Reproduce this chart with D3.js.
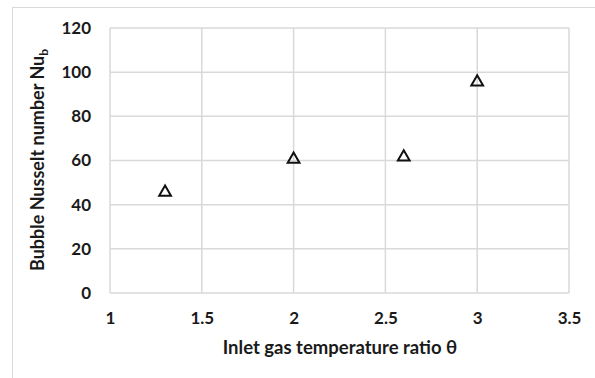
<!DOCTYPE html>
<html><head><meta charset="utf-8">
<script src="https://cdn.jsdelivr.net/npm/d3@7"></script>
<style>body{margin:0;background:#fff;} text{font-family:Lato,"Open Sans",sans-serif;font-weight:bold;fill:#1a1a1a;}</style>
</head><body>
<svg id="c" width="595" height="378"></svg>
<script>
const xValues = [1.3, 2, 2.6, 3];
const yValues = [46, 61, 62, 96];
const xTicks = [1, 1.5, 2, 2.5, 3, 3.5];
const yTicks = [0, 20, 40, 60, 80, 100, 120];

const svg = d3.select("#c");
const m = {l:110, r:569, t:28, b:293};
svg.append("rect").attr("x",12.5).attr("y",7.5).attr("width",600).attr("height",400)
  .attr("fill","none").attr("stroke","#d9d9d9").attr("stroke-width",1);

const x = d3.scaleLinear().domain([1,3.5]).range([m.l,m.r]);
const y = d3.scaleLinear().domain([0,120]).range([m.b,m.t]);

const g = svg.append("g");
g.selectAll(".vg").data(xTicks).join("line")
  .attr("x1",d=>x(d)).attr("x2",d=>x(d)).attr("y1",m.t).attr("y2",m.b)
  .attr("stroke","#d9d9d9").attr("stroke-width",1.5);
g.selectAll(".hg").data(yTicks).join("line")
  .attr("y1",d=>y(d)).attr("y2",d=>y(d)).attr("x1",m.l).attr("x2",m.r)
  .attr("stroke","#d9d9d9").attr("stroke-width",1.5);

const xa = svg.append("g").attr("transform",`translate(0,${m.b})`)
  .call(d3.axisBottom(x).tickValues(xTicks).tickSize(0).tickPadding(19).tickFormat(d3.format("")));
xa.select(".domain").remove();
xa.selectAll("text").style("font-size","17px").style("font-family","Lato,sans-serif").attr("fill","#1a1a1a");

const ya = svg.append("g").attr("transform",`translate(${m.l},0)`)
  .call(d3.axisLeft(y).tickValues(yTicks).tickSize(0).tickPadding(19));
ya.select(".domain").remove();
ya.selectAll("text").style("font-size","17px").style("font-family","Lato,sans-serif").attr("fill","#1a1a1a");

const tri = d3.symbol().type(d3.symbolTriangle).size(60);
svg.selectAll(".pt").data(xValues).join("path")
  .attr("d",tri).attr("transform",(d,i)=>`translate(${x(d)},${y(yValues[i])+1})`)
  .attr("fill","none").attr("stroke","#111").attr("stroke-width",2);

svg.append("text").attr("x",340).attr("y",354).attr("text-anchor","middle")
  .style("font-size","18.5px").text("Inlet gas temperature ratio θ");

const yt = svg.append("text").attr("transform","translate(44,160) rotate(-90)").attr("text-anchor","middle")
  .style("font-size","18px");
yt.append("tspan").text("Bubble Nusselt number Nu");
yt.append("tspan").attr("dy",4).style("font-size","12px").text("b");
</script>
</body></html>
